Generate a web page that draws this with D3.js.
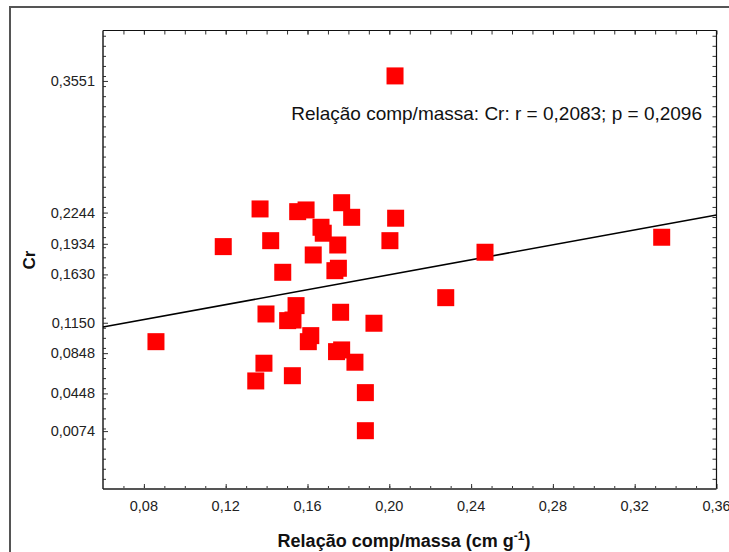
<!DOCTYPE html>
<html>
<head>
<meta charset="utf-8">
<script src="https://cdn.jsdelivr.net/npm/d3@7"></script>
<style>
  body { margin: 0; background: #fff; }
  text { font-family: "Liberation Sans", Arial, sans-serif; }
</style>
</head>
<body>
<div id="container"></div>
<script>
/* DATA */
const relacao = [0.1368, 0.1552, 0.1593, 0.1767, 0.1816, 0.2031, 0.1420, 0.1666, 0.1677, 0.1748,
  0.2003, 0.1628, 0.1479, 0.1734, 0.1751, 0.1188, 0.1544, 0.1397, 0.1503, 0.1529,
  0.1762, 0.1925, 0.1616, 0.1604, 0.1742, 0.1767, 0.1832, 0.1387, 0.1347, 0.1526,
  0.1883, 0.1883, 0.0859, 0.2028, 0.2468, 0.2276, 0.3332]
const cr = [0.2280, 0.2253, 0.2270, 0.2342, 0.2197, 0.2188, 0.1965, 0.2098, 0.2039, 0.1922,
  0.1965, 0.1823, 0.1651, 0.1667, 0.1691, 0.1906, 0.1320, 0.1237, 0.1171, 0.1177,
  0.1254, 0.1145, 0.1022, 0.0962, 0.0863, 0.0880, 0.0758, 0.0748, 0.0572, 0.0624,
  0.0456, 0.0078, 0.0962, 0.3601, 0.1850, 0.1399, 0.1999]
const xTicks = [0.08, 0.12, 0.16, 0.20, 0.24, 0.28, 0.32, 0.36]
const yTicks = [0.3551, 0.2244, 0.1934, 0.1630, 0.1150, 0.0848, 0.0448, 0.0074]
const annotation = "Relação comp/massa: Cr: r = 0,2083; p = 0,2096"

const data = relacao.map((x, i) => ({ x: x, y: cr[i] }))

/* CONSTANTS */
const width = 729, height = 552,
  margin = { top: 30.5, bottom: 63, left: 103, right: 12.5 },
  size = 17

const locale = d3.formatLocale({ decimal: ",", thousands: ".", grouping: [3], currency: ["", ""] })
const fmt2 = locale.format(".2f"), fmt4 = locale.format(".4f")

const svg = d3.select("#container").append("svg")
  .attr("width", width).attr("height", height)

// outer frame
svg.append("rect")
  .attr("x", 10).attr("y", 7).attr("width", 740).attr("height", 560)
  .attr("fill", "none").attr("stroke", "#555").attr("stroke-width", 2)

/* SCALES */
const xScale = d3.scaleLinear().domain([0.06, 0.36]).range([margin.left, width - margin.right])
const yScale = d3.scaleLinear().domain([-0.0501, 0.4052]).range([height - margin.bottom, margin.top])

const x0 = margin.left, x1 = width - margin.right
const y0 = height - margin.bottom, y1 = margin.top

const minorX = d3.range(0.07, 0.36, 0.01)
const minorY = d3.range(-0.04, 0.405, 0.01)

// axes with inward ticks
svg.append("g").attr("transform", `translate(0,${y0})`)
  .call(d3.axisTop(xScale).tickValues(minorX).tickSize(3).tickFormat(""))
svg.append("g").attr("transform", `translate(0,${y0})`)
  .call(d3.axisTop(xScale).tickValues(xTicks).tickSize(5).tickFormat(""))
svg.append("g").attr("transform", `translate(0,${y1})`)
  .call(d3.axisBottom(xScale).tickValues(minorX.concat(xTicks)).tickSize(4).tickFormat(""))
svg.append("g").attr("transform", `translate(${x0},0)`)
  .call(d3.axisRight(yScale).tickValues(minorY).tickSize(3).tickFormat(""))
svg.append("g").attr("transform", `translate(${x0},0)`)
  .call(d3.axisRight(yScale).tickValues(yTicks).tickSize(5).tickFormat(""))
svg.append("g").attr("transform", `translate(${x1},0)`)
  .call(d3.axisLeft(yScale).tickValues(minorY).tickSize(4).tickFormat(""))
svg.selectAll(".domain").remove()
svg.selectAll(".tick line").attr("stroke", "#333")

// frame of plot
svg.append("line").attr("x1", x0).attr("x2", x1).attr("y1", y1).attr("y2", y1).attr("stroke", "#111").attr("stroke-width", 1.2)
svg.append("line").attr("x1", x1).attr("x2", x1).attr("y1", y1).attr("y2", y0).attr("stroke", "#111").attr("stroke-width", 1.2)
svg.append("line").attr("x1", x0).attr("x2", x1).attr("y1", y0).attr("y2", y0).attr("stroke", "#555").attr("stroke-width", 2)
svg.append("line").attr("x1", x0).attr("x2", x0).attr("y1", y1).attr("y2", y0).attr("stroke", "#222").attr("stroke-width", 1.5)

// tick labels
svg.append("g").selectAll("text").data(xTicks).join("text")
  .attr("x", d => xScale(d)).attr("y", y0 + 22)
  .attr("text-anchor", "middle").attr("font-size", 14.5).attr("fill", "#222")
  .text(d => fmt2(d))
svg.append("g").selectAll("text").data(yTicks).join("text")
  .attr("x", x0 - 8).attr("y", d => yScale(d) + 5)
  .attr("text-anchor", "end").attr("font-size", 14.5).attr("fill", "#222")
  .text(d => fmt4(d))

/* REGRESSION LINE */
const mx = d3.mean(data, d => d.x), my = d3.mean(data, d => d.y)
const slope = d3.sum(data, d => (d.x - mx) * (d.y - my)) / d3.sum(data, d => (d.x - mx) ** 2)
const icpt = my - slope * mx
svg.append("line")
  .attr("x1", xScale(0.06)).attr("y1", yScale(icpt + slope * 0.06))
  .attr("x2", xScale(0.36)).attr("y2", yScale(icpt + slope * 0.36))
  .attr("stroke", "#000").attr("stroke-width", 1.6)

/* POINTS */
svg.append("g").selectAll("rect").data(data).join("rect")
  .attr("x", d => xScale(d.x) - size / 2)
  .attr("y", d => yScale(d.y) - size / 2)
  .attr("width", size).attr("height", size)
  .attr("fill", "#f00")

// annotation
svg.append("text")
  .attr("x", 702).attr("y", 120)
  .attr("text-anchor", "end").attr("font-size", 19).attr("fill", "#111")
  .text(annotation)

// axis titles
const xt = svg.append("text")
  .attr("x", 404).attr("y", 547)
  .attr("text-anchor", "middle").attr("font-size", 18).attr("font-weight", "bold").attr("fill", "#111")
xt.append("tspan").text("Relação comp/massa (cm g")
xt.append("tspan").attr("font-size", 12).attr("dy", -7).text("-1")
xt.append("tspan").attr("dy", 7).text(")")

svg.append("text")
  .attr("transform", `translate(35,260) rotate(-90)`)
  .attr("text-anchor", "middle").attr("font-size", 17).attr("font-weight", "bold").attr("fill", "#111")
  .text("Cr")
</script>
</body>
</html>
